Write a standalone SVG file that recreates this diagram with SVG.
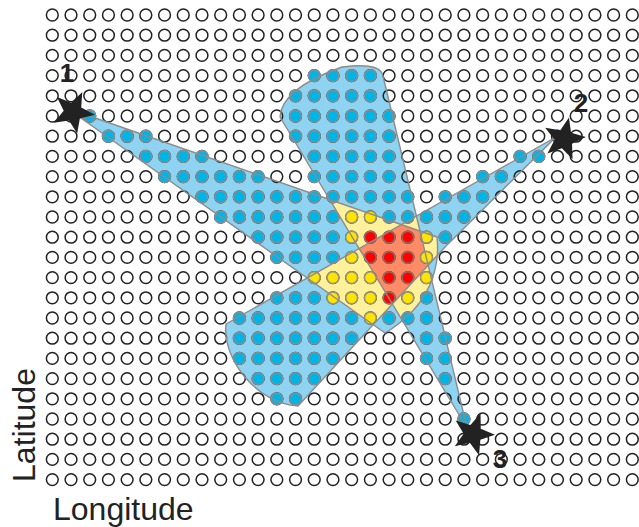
<svg xmlns="http://www.w3.org/2000/svg" xmlns:xlink="http://www.w3.org/1999/xlink" width="639" height="527" viewBox="0 0 639 527">
<style>
.blue{fill:#8ed3f1}
.yel{fill:#fff09c}
.red{fill:#ff8a66}
.edge{fill:none;stroke:#8c8c8c;stroke-width:1.4;stroke-linejoin:round}
.h{fill:none;stroke:#222;stroke-width:1.5}
.b{fill:#00b4e6;stroke:#858f94;stroke-width:1.5}
.y{fill:#ffe400;stroke:#9a9678;stroke-width:1.5}
.r{fill:#ff0000;stroke:#8f6f66;stroke-width:1.5}
.star{fill:#222}
.lbl{font-family:"Liberation Sans",Arial,sans-serif;font-weight:bold;font-size:26px;fill:#222}
.axis{font-family:"Liberation Sans",Arial,sans-serif;font-size:32px;fill:#222}
</style>
<defs>
<path id="s1" d="M78,112 L437,237 C440,265 432,305 385,333 L78,116 Z"/>
<path id="s2" d="M556,137 L226,324 C222,360 258,404 298,406 L446,246 Z"/>
<path id="s3" d="M467,428 L280,117 C281,99 300,82 342,67 C360,65 381,64 383,76 Z"/>
<clipPath id="c2"><use xlink:href="#s2"/></clipPath>
<clipPath id="c3"><use xlink:href="#s3"/></clipPath>
<path id="st" d="M0,-22 L5.5,-7.6 L20.9,-6.8 L8.9,2.9 L12.9,17.8 L0,9.4 L-12.9,17.8 L-8.9,2.9 L-20.9,-6.8 L-5.5,-7.6 Z"/>
<g id="row">
<circle class="h" cx="52.3" cy="0" r="5.9"/><circle class="h" cx="71.01" cy="0" r="5.9"/><circle class="h" cx="89.72" cy="0" r="5.9"/><circle class="h" cx="108.43" cy="0" r="5.9"/><circle class="h" cx="127.14" cy="0" r="5.9"/><circle class="h" cx="145.85" cy="0" r="5.9"/><circle class="h" cx="164.56" cy="0" r="5.9"/><circle class="h" cx="183.27" cy="0" r="5.9"/><circle class="h" cx="201.98" cy="0" r="5.9"/><circle class="h" cx="220.69" cy="0" r="5.9"/><circle class="h" cx="239.4" cy="0" r="5.9"/><circle class="h" cx="258.11" cy="0" r="5.9"/><circle class="h" cx="276.82" cy="0" r="5.9"/><circle class="h" cx="295.53" cy="0" r="5.9"/><circle class="h" cx="314.24" cy="0" r="5.9"/><circle class="h" cx="332.95" cy="0" r="5.9"/><circle class="h" cx="351.66" cy="0" r="5.9"/><circle class="h" cx="370.37" cy="0" r="5.9"/><circle class="h" cx="389.08" cy="0" r="5.9"/><circle class="h" cx="407.79" cy="0" r="5.9"/><circle class="h" cx="426.5" cy="0" r="5.9"/><circle class="h" cx="445.21" cy="0" r="5.9"/><circle class="h" cx="463.92" cy="0" r="5.9"/><circle class="h" cx="482.63" cy="0" r="5.9"/><circle class="h" cx="501.34" cy="0" r="5.9"/><circle class="h" cx="520.05" cy="0" r="5.9"/><circle class="h" cx="538.76" cy="0" r="5.9"/><circle class="h" cx="557.47" cy="0" r="5.9"/><circle class="h" cx="576.18" cy="0" r="5.9"/><circle class="h" cx="594.89" cy="0" r="5.9"/><circle class="h" cx="613.6" cy="0" r="5.9"/><circle class="h" cx="632.31" cy="0" r="5.9"/>
</g>
</defs>
<rect width="639" height="527" fill="#fff"/>
<g id="regions">
<use xlink:href="#s1" class="blue"/>
<use xlink:href="#s2" class="blue"/>
<use xlink:href="#s3" class="blue"/>
<g clip-path="url(#c2)"><use xlink:href="#s1" class="yel"/></g>
<g clip-path="url(#c3)"><use xlink:href="#s1" class="yel"/><use xlink:href="#s2" class="yel"/></g>
<g clip-path="url(#c3)"><g clip-path="url(#c2)"><use xlink:href="#s1" class="red"/></g></g>
</g>
<g id="grid">
<use xlink:href="#row" y="15"/><use xlink:href="#row" y="35.2"/><use xlink:href="#row" y="55.4"/><use xlink:href="#row" y="75.6"/><use xlink:href="#row" y="95.8"/><use xlink:href="#row" y="116"/><use xlink:href="#row" y="136.2"/><use xlink:href="#row" y="156.4"/><use xlink:href="#row" y="176.6"/><use xlink:href="#row" y="196.8"/><use xlink:href="#row" y="217"/><use xlink:href="#row" y="237.2"/><use xlink:href="#row" y="257.4"/><use xlink:href="#row" y="277.6"/><use xlink:href="#row" y="297.8"/><use xlink:href="#row" y="318"/><use xlink:href="#row" y="338.2"/><use xlink:href="#row" y="358.4"/><use xlink:href="#row" y="378.6"/><use xlink:href="#row" y="398.8"/><use xlink:href="#row" y="419"/><use xlink:href="#row" y="439.2"/><use xlink:href="#row" y="459.4"/><use xlink:href="#row" y="479.6"/>
</g>
<g id="filled-dots">
<circle class="b" cx="314.24" cy="75.6" r="5.9"/><circle class="b" cx="332.95" cy="75.6" r="5.9"/><circle class="b" cx="351.66" cy="75.6" r="5.9"/><circle class="b" cx="370.37" cy="75.6" r="5.9"/>
<circle class="b" cx="295.53" cy="95.8" r="5.9"/><circle class="b" cx="314.24" cy="95.8" r="5.9"/><circle class="b" cx="332.95" cy="95.8" r="5.9"/><circle class="b" cx="351.66" cy="95.8" r="5.9"/><circle class="b" cx="370.37" cy="95.8" r="5.9"/>
<circle class="b" cx="89.72" cy="116" r="5.9"/><circle class="b" cx="295.53" cy="116" r="5.9"/><circle class="b" cx="314.24" cy="116" r="5.9"/><circle class="b" cx="332.95" cy="116" r="5.9"/><circle class="b" cx="351.66" cy="116" r="5.9"/><circle class="b" cx="370.37" cy="116" r="5.9"/><circle class="b" cx="389.08" cy="116" r="5.9"/>
<circle class="b" cx="108.43" cy="136.2" r="5.9"/><circle class="b" cx="127.14" cy="136.2" r="5.9"/><circle class="b" cx="145.85" cy="136.2" r="5.9"/><circle class="b" cx="295.53" cy="136.2" r="5.9"/><circle class="b" cx="314.24" cy="136.2" r="5.9"/><circle class="b" cx="332.95" cy="136.2" r="5.9"/><circle class="b" cx="351.66" cy="136.2" r="5.9"/><circle class="b" cx="370.37" cy="136.2" r="5.9"/><circle class="b" cx="389.08" cy="136.2" r="5.9"/>
<circle class="b" cx="145.85" cy="156.4" r="5.9"/><circle class="b" cx="164.56" cy="156.4" r="5.9"/><circle class="b" cx="183.27" cy="156.4" r="5.9"/><circle class="b" cx="201.98" cy="156.4" r="5.9"/><circle class="b" cx="314.24" cy="156.4" r="5.9"/><circle class="b" cx="332.95" cy="156.4" r="5.9"/><circle class="b" cx="351.66" cy="156.4" r="5.9"/><circle class="b" cx="370.37" cy="156.4" r="5.9"/><circle class="b" cx="389.08" cy="156.4" r="5.9"/><circle class="b" cx="520.05" cy="156.4" r="5.9"/><circle class="b" cx="538.76" cy="156.4" r="5.9"/>
<circle class="b" cx="164.56" cy="176.6" r="5.9"/><circle class="b" cx="183.27" cy="176.6" r="5.9"/><circle class="b" cx="201.98" cy="176.6" r="5.9"/><circle class="b" cx="220.69" cy="176.6" r="5.9"/><circle class="b" cx="239.4" cy="176.6" r="5.9"/><circle class="b" cx="258.11" cy="176.6" r="5.9"/><circle class="b" cx="314.24" cy="176.6" r="5.9"/><circle class="b" cx="332.95" cy="176.6" r="5.9"/><circle class="b" cx="351.66" cy="176.6" r="5.9"/><circle class="b" cx="370.37" cy="176.6" r="5.9"/><circle class="b" cx="389.08" cy="176.6" r="5.9"/><circle class="b" cx="482.63" cy="176.6" r="5.9"/><circle class="b" cx="501.34" cy="176.6" r="5.9"/>
<circle class="b" cx="201.98" cy="196.8" r="5.9"/><circle class="b" cx="220.69" cy="196.8" r="5.9"/><circle class="b" cx="239.4" cy="196.8" r="5.9"/><circle class="b" cx="258.11" cy="196.8" r="5.9"/><circle class="b" cx="276.82" cy="196.8" r="5.9"/><circle class="b" cx="295.53" cy="196.8" r="5.9"/><circle class="b" cx="314.24" cy="196.8" r="5.9"/><circle class="b" cx="332.95" cy="196.8" r="5.9"/><circle class="b" cx="351.66" cy="196.8" r="5.9"/><circle class="b" cx="370.37" cy="196.8" r="5.9"/><circle class="b" cx="389.08" cy="196.8" r="5.9"/><circle class="b" cx="407.79" cy="196.8" r="5.9"/><circle class="b" cx="445.21" cy="196.8" r="5.9"/><circle class="b" cx="463.92" cy="196.8" r="5.9"/><circle class="b" cx="482.63" cy="196.8" r="5.9"/>
<circle class="b" cx="220.69" cy="217" r="5.9"/><circle class="b" cx="239.4" cy="217" r="5.9"/><circle class="b" cx="258.11" cy="217" r="5.9"/><circle class="b" cx="276.82" cy="217" r="5.9"/><circle class="b" cx="295.53" cy="217" r="5.9"/><circle class="b" cx="314.24" cy="217" r="5.9"/><circle class="b" cx="332.95" cy="217" r="5.9"/><circle class="y" cx="351.66" cy="217" r="5.9"/><circle class="y" cx="370.37" cy="217" r="5.9"/><circle class="b" cx="389.08" cy="217" r="5.9"/><circle class="b" cx="407.79" cy="217" r="5.9"/><circle class="b" cx="426.5" cy="217" r="5.9"/><circle class="b" cx="445.21" cy="217" r="5.9"/><circle class="b" cx="463.92" cy="217" r="5.9"/>
<circle class="b" cx="258.11" cy="237.2" r="5.9"/><circle class="b" cx="276.82" cy="237.2" r="5.9"/><circle class="b" cx="295.53" cy="237.2" r="5.9"/><circle class="b" cx="314.24" cy="237.2" r="5.9"/><circle class="b" cx="332.95" cy="237.2" r="5.9"/><circle class="y" cx="351.66" cy="237.2" r="5.9"/><circle class="r" cx="370.37" cy="237.2" r="5.9"/><circle class="r" cx="389.08" cy="237.2" r="5.9"/><circle class="r" cx="407.79" cy="237.2" r="5.9"/><circle class="y" cx="426.5" cy="237.2" r="5.9"/><circle class="b" cx="445.21" cy="237.2" r="5.9"/>
<circle class="b" cx="276.82" cy="257.4" r="5.9"/><circle class="b" cx="295.53" cy="257.4" r="5.9"/><circle class="b" cx="314.24" cy="257.4" r="5.9"/><circle class="b" cx="332.95" cy="257.4" r="5.9"/><circle class="y" cx="351.66" cy="257.4" r="5.9"/><circle class="r" cx="370.37" cy="257.4" r="5.9"/><circle class="r" cx="389.08" cy="257.4" r="5.9"/><circle class="r" cx="407.79" cy="257.4" r="5.9"/><circle class="y" cx="426.5" cy="257.4" r="5.9"/>
<circle class="y" cx="314.24" cy="277.6" r="5.9"/><circle class="y" cx="332.95" cy="277.6" r="5.9"/><circle class="y" cx="351.66" cy="277.6" r="5.9"/><circle class="y" cx="370.37" cy="277.6" r="5.9"/><circle class="r" cx="389.08" cy="277.6" r="5.9"/><circle class="r" cx="407.79" cy="277.6" r="5.9"/><circle class="y" cx="426.5" cy="277.6" r="5.9"/>
<circle class="b" cx="276.82" cy="297.8" r="5.9"/><circle class="b" cx="295.53" cy="297.8" r="5.9"/><circle class="b" cx="314.24" cy="297.8" r="5.9"/><circle class="y" cx="332.95" cy="297.8" r="5.9"/><circle class="y" cx="351.66" cy="297.8" r="5.9"/><circle class="y" cx="370.37" cy="297.8" r="5.9"/><circle class="r" cx="389.08" cy="297.8" r="5.9"/><circle class="y" cx="407.79" cy="297.8" r="5.9"/><circle class="b" cx="426.5" cy="297.8" r="5.9"/>
<circle class="b" cx="239.4" cy="318" r="5.9"/><circle class="b" cx="258.11" cy="318" r="5.9"/><circle class="b" cx="276.82" cy="318" r="5.9"/><circle class="b" cx="295.53" cy="318" r="5.9"/><circle class="b" cx="314.24" cy="318" r="5.9"/><circle class="b" cx="332.95" cy="318" r="5.9"/><circle class="b" cx="351.66" cy="318" r="5.9"/><circle class="y" cx="370.37" cy="318" r="5.9"/><circle class="b" cx="389.08" cy="318" r="5.9"/><circle class="b" cx="407.79" cy="318" r="5.9"/><circle class="b" cx="426.5" cy="318" r="5.9"/>
<circle class="b" cx="239.4" cy="338.2" r="5.9"/><circle class="b" cx="258.11" cy="338.2" r="5.9"/><circle class="b" cx="276.82" cy="338.2" r="5.9"/><circle class="b" cx="295.53" cy="338.2" r="5.9"/><circle class="b" cx="314.24" cy="338.2" r="5.9"/><circle class="b" cx="332.95" cy="338.2" r="5.9"/><circle class="b" cx="351.66" cy="338.2" r="5.9"/><circle class="b" cx="426.5" cy="338.2" r="5.9"/><circle class="b" cx="445.21" cy="338.2" r="5.9"/>
<circle class="b" cx="239.4" cy="358.4" r="5.9"/><circle class="b" cx="258.11" cy="358.4" r="5.9"/><circle class="b" cx="276.82" cy="358.4" r="5.9"/><circle class="b" cx="295.53" cy="358.4" r="5.9"/><circle class="b" cx="314.24" cy="358.4" r="5.9"/><circle class="b" cx="332.95" cy="358.4" r="5.9"/><circle class="b" cx="426.5" cy="358.4" r="5.9"/><circle class="b" cx="445.21" cy="358.4" r="5.9"/>
<circle class="b" cx="258.11" cy="378.6" r="5.9"/><circle class="b" cx="276.82" cy="378.6" r="5.9"/><circle class="b" cx="295.53" cy="378.6" r="5.9"/><circle class="b" cx="314.24" cy="378.6" r="5.9"/><circle class="b" cx="445.21" cy="378.6" r="5.9"/>
<circle class="b" cx="276.82" cy="398.8" r="5.9"/><circle class="b" cx="295.53" cy="398.8" r="5.9"/>
<circle class="b" cx="463.92" cy="419" r="5.9"/>
</g>
<g id="region-edges">
<use xlink:href="#s1" class="edge"/>
<use xlink:href="#s2" class="edge"/>
<use xlink:href="#s3" class="edge"/>
</g>
<g id="connectors"/>
<g id="node-1">
<use xlink:href="#st" class="star" transform="translate(73,112) rotate(25)"/>
<text class="lbl" x="67" y="82" text-anchor="middle">1</text>
</g>
<g id="node-2">
<use xlink:href="#st" class="star" transform="translate(564,139) rotate(13)"/>
<text class="lbl" x="581" y="112" text-anchor="middle">2</text>
</g>
<g id="node-3">
<use xlink:href="#st" class="star" transform="translate(473,434) rotate(20)"/>
<text class="lbl" x="500" y="468" text-anchor="middle">3</text>
</g>
<g id="axes">
<text class="axis" transform="translate(35,425) rotate(-90)" text-anchor="middle">Latitude</text>
<text class="axis" x="53" y="520">Longitude</text>
</g>
</svg>
